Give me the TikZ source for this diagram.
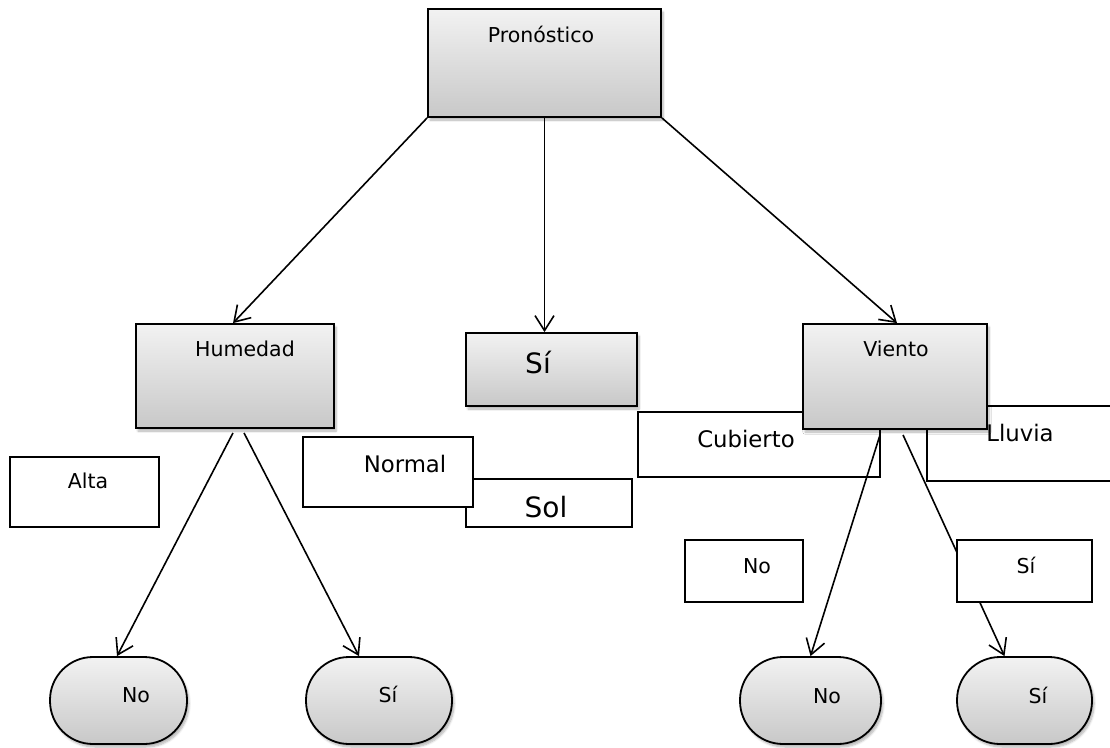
\documentclass[tikz,border=0pt]{standalone}
\usepackage{fontspec}
\setmainfont{DejaVu Sans}
\usetikzlibrary{arrows.meta,shadows.blur,calc}
\definecolor{boxtop}{RGB}{242,242,242}
\definecolor{boxbot}{RGB}{200,200,200}
\tikzset{
  graybox/.style={draw=black, line width=1.8pt, rectangle, inner sep=0pt,
    top color=boxtop, bottom color=boxbot,
    blur shadow={shadow xshift=2pt, shadow yshift=-3pt, shadow blur steps=6, shadow opacity=30}},
  whitebox/.style={draw=black, line width=1.4pt, fill=white, rectangle, inner sep=0pt},
  leaf/.style={draw=black, line width=1.8pt, rectangle, rounded corners=43pt, inner sep=0pt,
    top color=boxtop, bottom color=boxbot, minimum height=87pt,
    blur shadow={shadow xshift=2pt, shadow yshift=-3pt, shadow blur steps=6, shadow opacity=30}},
  txt/.style={anchor=base, inner sep=0pt, font=\fontsize{20.5}{24}\selectfont},
  txtm/.style={anchor=base, inner sep=0pt, font=\fontsize{22.8}{27}\selectfont},
  txtl/.style={anchor=base, inner sep=0pt, font=\fontsize{28}{33}\selectfont},
  conn/.style={line width=1.6pt, -{Straight Barb[length=15pt,width=19pt,line width=1.6pt]}}
}
\begin{document}
\begin{tikzpicture}[x=1pt,y=-1pt]
\useasboundingbox (0,0) rectangle (1110,747);
\clip (0,0) rectangle (1110,747);

% white label boxes behind Viento
\node[whitebox, minimum width=242pt, minimum height=65pt] (cub) at (759,444.5) {};
\node[whitebox, minimum width=188pt, minimum height=75pt] (llu) at (1021,443.5) {};

% gray boxes
\node[graybox, minimum width=233pt, minimum height=108pt] (pron) at (544.5,63) {};
\node[graybox, minimum width=198pt, minimum height=104pt] (hum) at (235,376) {};
\node[graybox, minimum width=171pt, minimum height=73pt] (simid) at (551.5,369.5) {};
\node[graybox, minimum width=184pt, minimum height=105pt] (vie) at (895,376.5) {};

% other white boxes
\node[whitebox, minimum width=149pt, minimum height=70pt] (alta) at (84.5,492) {};
\node[whitebox, minimum width=166pt, minimum height=48pt] (sol) at (549,503) {};
\node[whitebox, minimum width=170pt, minimum height=70pt] (norm) at (388,472) {};

% leaves
\node[leaf, minimum width=137pt] (noL) at (118.5,700.5) {};
\node[leaf, minimum width=146pt] (siL) at (379,700.5) {};
\node[leaf, minimum width=141pt] (noR) at (810.5,700.5) {};
\node[leaf, minimum width=135pt] (siR) at (1024.5,700.5) {};

% connectors
\draw[conn] (pron.south west) -- ([xshift=-2pt]hum.north);
\draw[conn] (pron.south) -- (pron.south |- simid.north);
\draw[conn] (pron.south east) -- ([xshift=2pt]vie.north);
\draw[conn] ([xshift=-2pt,yshift=-4pt]hum.south) -- ([xshift=-1.5pt]noL.north);
\draw[conn] ([xshift=9pt,yshift=-4pt]hum.south) -- ([xshift=-20pt]siL.north);
\draw[conn] ([xshift=-15pt,yshift=-5pt]vie.south) -- (noR.north);
\draw[conn] ([xshift=8pt,yshift=-5pt]vie.south) -- ([xshift=-20pt]siR.north);

% label boxes covering connectors
\node[whitebox, minimum width=118pt, minimum height=62pt] (lno) at (744,571) {};
\node[whitebox, minimum width=135pt, minimum height=62pt] (lsi) at (1024.5,571) {};

% texts
\node[txt] (tpron) at (541,42) {Pronóstico};
\node[txt] (thum) at (245,356) {Humedad};
\node[txtl] (tsimid) at (538,373) {Sí};
\node[txt] (tvie) at (896,356) {Viento};
\node[txtm] (tcub) at (746,447) {Cubierto};
\node[txtm] (tllu) at (1020,441) {Lluvia};
\node[txt] (talta) at (88,488) {Alta};
\node[txtm] (tnorm) at (405,472) {Normal};
\node[txtl] (tsol) at (546,517) {Sol};
\node[txt] (tlno) at (757,573) {No};
\node[txt] (tlsi) at (1026,573) {Sí};
\node[txt] (tnoL) at (136,702) {No};
\node[txt] (tsiL) at (388,702) {Sí};
\node[txt] (tnoR) at (827,703) {No};
\node[txt] (tsiR) at (1038,703) {Sí};
\end{tikzpicture}
\end{document}
